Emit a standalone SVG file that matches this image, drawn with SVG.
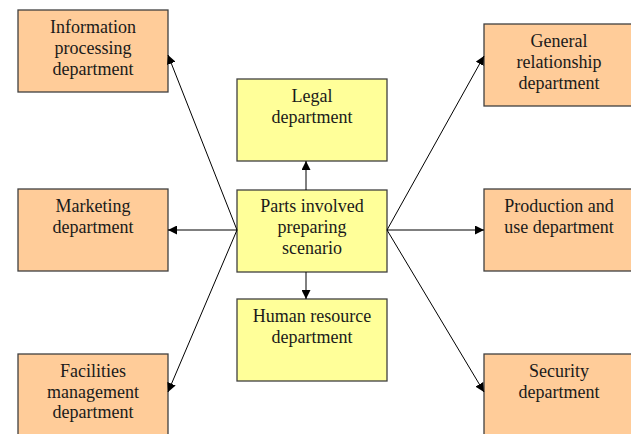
<svg xmlns="http://www.w3.org/2000/svg" width="631" height="434" viewBox="0 0 631 434">
<defs>
<style>
.o{fill:#FFCC99;stroke:#404040;stroke-width:1.3}
.y{fill:#FFFF99;stroke:#404040;stroke-width:1.3}
text{font-family:"Liberation Serif","Times New Roman",serif;font-size:18px;fill:#1a1a1a;text-anchor:middle}
.c line{stroke:#000;stroke-width:1;marker-end:url(#ah)}
</style>
<marker id="ah" viewBox="0 0 10 10" refX="10" refY="5" markerWidth="9" markerHeight="9" markerUnits="userSpaceOnUse" orient="auto">
<path d="M0,0 L10,5 L0,10 z" fill="#000"/>
</marker>
</defs>
<rect width="631" height="434" fill="#fff"/>
<g id="info"><rect class="o" x="18" y="10" width="150" height="82"/><text x="93" y="33">Information</text><text x="93" y="54">processing</text><text x="93" y="75">department</text></g>
<g id="marketing"><rect class="o" x="18" y="189" width="150" height="82"/><text x="93" y="212">Marketing</text><text x="93" y="233">department</text></g>
<g id="facilities"><rect class="o" x="18" y="354" width="150" height="82"/><text x="93" y="377">Facilities</text><text x="93" y="398">management</text><text x="93" y="418">department</text></g>
<g id="legal"><rect class="y" x="237" y="79" width="150" height="82"/><text x="312" y="102">Legal</text><text x="312" y="123">department</text></g>
<g id="center"><rect class="y" x="237" y="190" width="150" height="82"/><text x="312" y="212">Parts involved</text><text x="312" y="233">preparing</text><text x="312" y="254">scenario</text></g>
<g id="hr"><rect class="y" x="237" y="299" width="150" height="82"/><text x="312" y="322">Human resource</text><text x="312" y="343">department</text></g>
<g id="general"><rect class="o" x="484" y="24" width="150" height="82"/><text x="559" y="47">General</text><text x="559" y="68">relationship</text><text x="559" y="89">department</text></g>
<g id="production"><rect class="o" x="484" y="189" width="150" height="82"/><text x="559" y="212">Production and</text><text x="559" y="233">use department</text></g>
<g id="security"><rect class="o" x="484" y="354" width="150" height="82"/><text x="559" y="377">Security</text><text x="559" y="398">department</text></g>
<g id="connectors" class="c">
<line x1="237" y1="230" x2="168" y2="55"/>
<line x1="237" y1="230" x2="168" y2="230"/>
<line x1="237" y1="230" x2="168" y2="392"/>
<line x1="387" y1="230" x2="484" y2="56"/>
<line x1="387" y1="230" x2="484" y2="230"/>
<line x1="387" y1="230" x2="484" y2="392"/>
<line x1="306" y1="190" x2="306" y2="161"/>
<line x1="306" y1="272" x2="306" y2="299"/>
</g>
</svg>
